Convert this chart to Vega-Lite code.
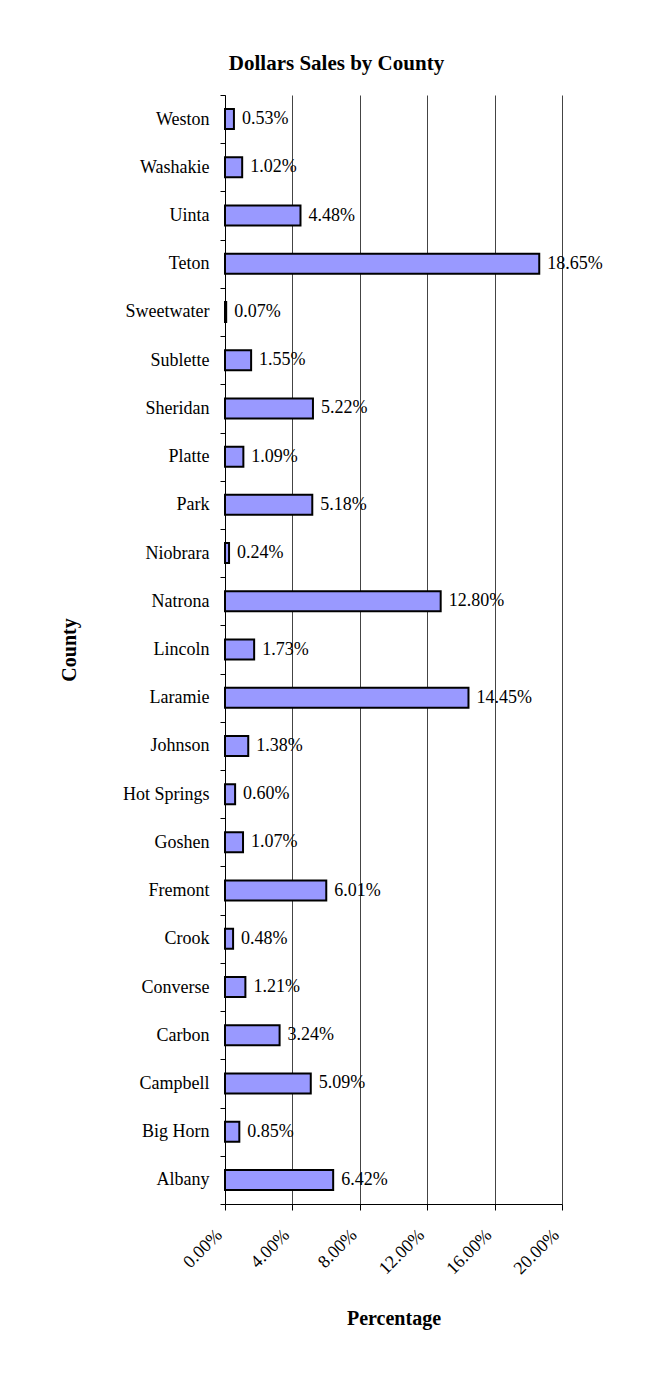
{
  "$schema": "https://vega.github.io/schema/vega-lite/v6.json",
  "width": 337,
  "height": 1109,
  "autosize": {"type": "none"},
  "padding": {"left": 225, "top": 95, "right": 98, "bottom": 173},
  "background": "white",
  "title": {
    "text": "Dollars Sales by County",
    "font": "Liberation Serif",
    "fontSize": 21,
    "fontWeight": "bold",
    "color": "black",
    "anchor": "middle",
    "baseline": "alphabetic",
    "offset": -5,
    "dx": -57
  },
  "data": {
    "values": [
      {"County": "Weston", "Percentage": 0.0053},
      {"County": "Washakie", "Percentage": 0.0102},
      {"County": "Uinta", "Percentage": 0.0448},
      {"County": "Teton", "Percentage": 0.1865},
      {"County": "Sweetwater", "Percentage": 0.0007},
      {"County": "Sublette", "Percentage": 0.0155},
      {"County": "Sheridan", "Percentage": 0.0522},
      {"County": "Platte", "Percentage": 0.0109},
      {"County": "Park", "Percentage": 0.0518},
      {"County": "Niobrara", "Percentage": 0.0024},
      {"County": "Natrona", "Percentage": 0.128},
      {"County": "Lincoln", "Percentage": 0.0173},
      {"County": "Laramie", "Percentage": 0.1445},
      {"County": "Johnson", "Percentage": 0.0138},
      {"County": "Hot Springs", "Percentage": 0.006},
      {"County": "Goshen", "Percentage": 0.0107},
      {"County": "Fremont", "Percentage": 0.0601},
      {"County": "Crook", "Percentage": 0.0048},
      {"County": "Converse", "Percentage": 0.0121},
      {"County": "Carbon", "Percentage": 0.0324},
      {"County": "Campbell", "Percentage": 0.0509},
      {"County": "Big Horn", "Percentage": 0.0085},
      {"County": "Albany", "Percentage": 0.0642}
    ]
  },
  "encoding": {
    "y": {
      "field": "County",
      "type": "nominal",
      "sort": "descending",
      "scale": {"paddingInner": 0, "paddingOuter": 0},
      "axis": {
        "title": "County",
        "titleFontSize": 20,
        "titleFontWeight": "bold",
        "titlePadding": 43,
        "labelFontSize": 18,
        "labelPadding": 11,
        "tickSize": 5,
        "tickBand": "extent",
        "grid": false
      }
    },
    "x": {
      "field": "Percentage",
      "type": "quantitative",
      "scale": {"domain": [0, 0.2], "nice": false},
      "axis": {
        "title": "Percentage",
        "format": ".2%",
        "values": [0, 0.04, 0.08, 0.12, 0.16, 0.2],
        "labelAngle": -45,
        "labelAlign": "right",
        "labelBaseline": "middle",
        "labelOffset": -6,
        "labelFontSize": 18,
        "labelPadding": 22,
        "tickSize": 6,
        "grid": true,
        "gridColor": "#444444",
        "gridOpacity": 1,
        "titleFontSize": 20,
        "titleFontWeight": "bold",
        "titlePadding": 31
      }
    }
  },
  "layer": [
    {
      "mark": {"type": "bar", "height": 20, "fill": "#9999FF", "stroke": "black", "strokeWidth": 2}
    },
    {
      "mark": {"type": "text", "align": "left", "baseline": "middle", "dx": 8, "fontSize": 18, "font": "Liberation Serif", "color": "black"},
      "encoding": {"text": {"field": "Percentage", "type": "quantitative", "format": ".2%"}}
    }
  ],
  "config": {
    "font": "Liberation Serif",
    "view": {"stroke": null},
    "axis": {
      "labelFont": "Liberation Serif",
      "titleFont": "Liberation Serif",
      "labelColor": "black",
      "titleColor": "black",
      "domainColor": "black",
      "tickColor": "black",
      "domainWidth": 1,
      "tickWidth": 1
    }
  }
}
